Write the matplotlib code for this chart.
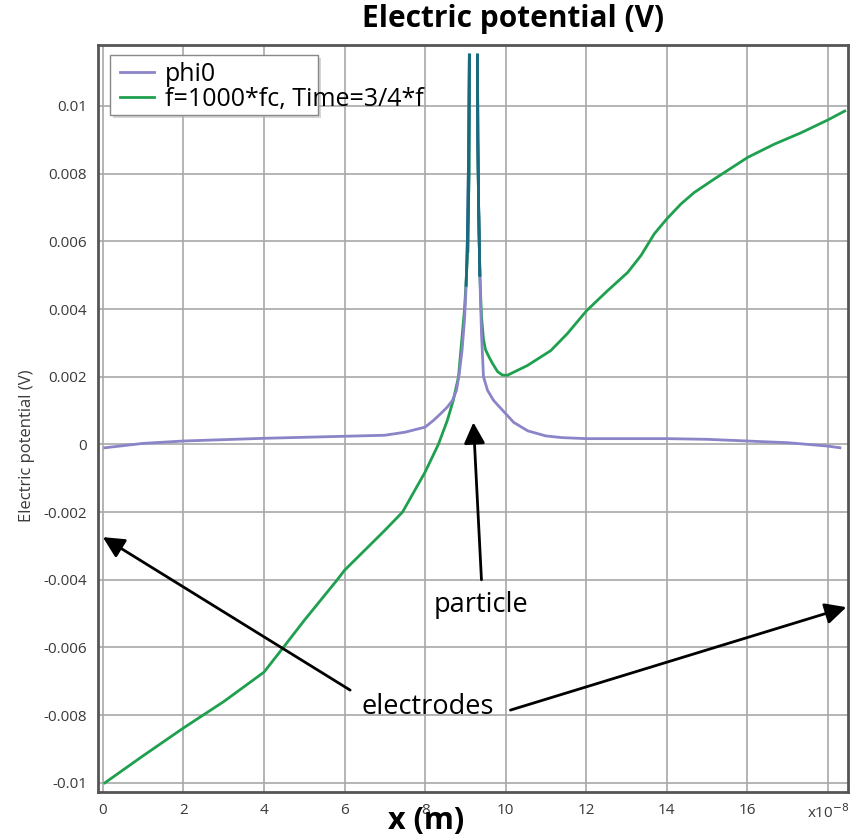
import matplotlib
matplotlib.use("Agg")
import matplotlib.pyplot as plt
from matplotlib.patches import Rectangle
import numpy as np

plt.rcParams['font.family'] = ['Open Sans', 'DejaVu Sans']

# x in units of 1e-8 m, NaN marks the inside of the particle
x_phi0 = [0.05, 1, 2, 3, 4, 5, 6, 7, 7.5, 8, 8.2, 8.38, 8.55, 8.68, 8.78, 8.85,
          8.92, 8.98, 9.02, 9.05, 9.08, 9.10, 9.2,
          9.30, 9.31, 9.33, 9.36, 9.40, 9.45, 9.55, 9.7, 9.93, 10.2, 10.55, 11,
          11.4, 12, 13, 14, 15, 16, 17, 18, 18.3]
phi0 = [-0.0001, 0.00003, 0.0001, 0.00014, 0.00018, 0.00021, 0.00024, 0.00027,
        0.00036, 0.00051, 0.0007, 0.0009, 0.0011, 0.0013, 0.0016, 0.0021,
        0.0028, 0.0037, 0.0047, 0.006, 0.0085, 0.0115, np.nan,
        0.0115, 0.009, 0.007, 0.005, 0.0033, 0.002, 0.0016, 0.0013, 0.001,
        0.00065, 0.0004, 0.00025, 0.0002, 0.00017, 0.00017, 0.00017, 0.00015,
        0.0001, 0.00005, -0.00005, -0.0001]

x_f = [0.05, 1, 2, 3, 4, 4.48, 5, 5.82, 6, 7, 7.44, 8, 8.33, 8.55, 8.7, 8.83,
       8.98, 9.06, 9.09, 9.10, 9.2,
       9.30, 9.31, 9.33, 9.36, 9.40, 9.45, 9.5, 9.58, 9.67, 9.8, 9.92, 10.04,
       10.54, 11.12, 11.53, 12.01, 12.53, 13.03, 13.36, 13.69, 14.0, 14.35,
       14.68, 15.18, 16.01, 16.67, 17.34, 17.99, 18.42]
f_pot = [-0.01, -0.0092, -0.00838, -0.0076, -0.00673, -0.006, -0.0052, -0.004,
         -0.00372, -0.00254, -0.002, -0.00082, 0.0, 0.0007, 0.0013, 0.002,
         0.004, 0.0057, 0.008, 0.0115, np.nan,
         0.0115, 0.009, 0.007, 0.005, 0.0038, 0.0031, 0.0028, 0.0026, 0.0024,
         0.00215, 0.00205, 0.00204, 0.00233, 0.00277, 0.00327, 0.00395,
         0.00454, 0.00508, 0.00558, 0.00622, 0.00666, 0.0071, 0.00744, 0.00784,
         0.00848, 0.00887, 0.00921, 0.00958, 0.00985]

labels = ['phi0', 'f=1000*fc, Time=3/4*f']
xticks = [0, 2, 4, 6, 8, 10, 12, 14, 16, 18]
xticklabels = ['0', '2', '4', '6', '8', '10', '12', '14', '16', r'x10$^{-8}$']
yticks = [-0.01, -0.008, -0.006, -0.004, -0.002, 0, 0.002, 0.004, 0.006, 0.008, 0.01]
yticklabels = ['-0.01', '-0.008', '-0.006', '-0.004', '-0.002', '0',
               '0.002', '0.004', '0.006', '0.008', '0.01']

purple = '#8a84c8'
green = '#1ea04e'
teal = '#1a6a7e'

fig = plt.figure(figsize=(8.68, 8.35), dpi=100)
ax = fig.add_axes([98 / 868, 1 - 792 / 835, 750 / 868, 747 / 835])

ax.plot(x_f, f_pot, color=green, lw=2, label=labels[1], zorder=3)
ax.plot(x_phi0, phi0, color=purple, lw=2, label=labels[0], zorder=4)

# overlapping part of both curves around the particle looks dark teal
for xs, ys in [(x_phi0, phi0), (x_f, f_pot)]:
    xs = np.array(xs)
    ys = np.array(ys, dtype=float)
    m = (np.abs(xs - 9.2) < 0.3) & (ys >= 0.0045)
    ax.plot(np.where(m, xs, np.nan), np.where(m, ys, np.nan), color=teal, lw=2, zorder=5)

ax.set_xlim(-0.12, 18.5)
ax.set_ylim(-0.01027, 0.0118)
ax.set_xticks(xticks)
ax.set_xticklabels(xticklabels)
ax.set_yticks(yticks)
ax.set_yticklabels(yticklabels)
ax.tick_params(length=0, labelsize=11, labelcolor='#3a3a3a', pad=8)
ax.grid(True, color='#a8a8a8', lw=1.2)
ax.set_axisbelow(True)
for s in ax.spines.values():
    s.set_color('#555555')
    s.set_linewidth(2)

# legend frame is narrower than the long label, as in the original
ax.add_patch(Rectangle((0.020, 0.9023), 0.2773, 0.0803, transform=ax.transAxes,
                       facecolor='#bbbbbb', edgecolor='none', alpha=0.6, zorder=6))
ax.add_patch(Rectangle((0.016, 0.9063), 0.2773, 0.0803, transform=ax.transAxes,
                       facecolor='white', edgecolor='#888888', lw=1, zorder=7))
h, l = ax.get_legend_handles_labels()
leg = ax.legend(h[::-1], l[::-1], loc='upper left', bbox_to_anchor=(0.029, 0.977),
                fontsize=18, frameon=False, handlelength=1.35, handletextpad=0.45,
                borderpad=0, labelspacing=-0.02, borderaxespad=0)
leg.set_zorder(8)

fig.text(513 / 868, 1 - 19 / 835, 'Electric potential (V)', ha='center', va='center',
         fontsize=21.5, fontweight='bold')
fig.text(426 / 868, 1 - 821 / 835, 'x (m)', ha='center', va='center',
         fontsize=22, fontweight='bold')
fig.text(27 / 868, 1 - 446 / 835, 'Electric potential (V)', ha='center', va='center',
         rotation=90, fontsize=12, color='#3a3a3a')

arrow = dict(arrowstyle='-|>', color='black', lw=2, mutation_scale=32,
             shrinkA=0, shrinkB=0)
ax.text(9.4, -0.00475, 'particle', ha='center', va='center', fontsize=19.5)
ax.annotate('', xy=(9.2, 0.00065), xytext=(9.4, -0.004), arrowprops=arrow)
ax.text(8.06, -0.00776, 'electrodes', ha='center', va='center', fontsize=19.5)
ax.annotate('', xy=(0.0, -0.00274), xytext=(6.14, -0.00726), arrowprops=arrow)
ax.annotate('', xy=(18.46, -0.00481), xytext=(10.12, -0.00785), arrowprops=arrow)

fig.savefig('out.png', dpi=100)
